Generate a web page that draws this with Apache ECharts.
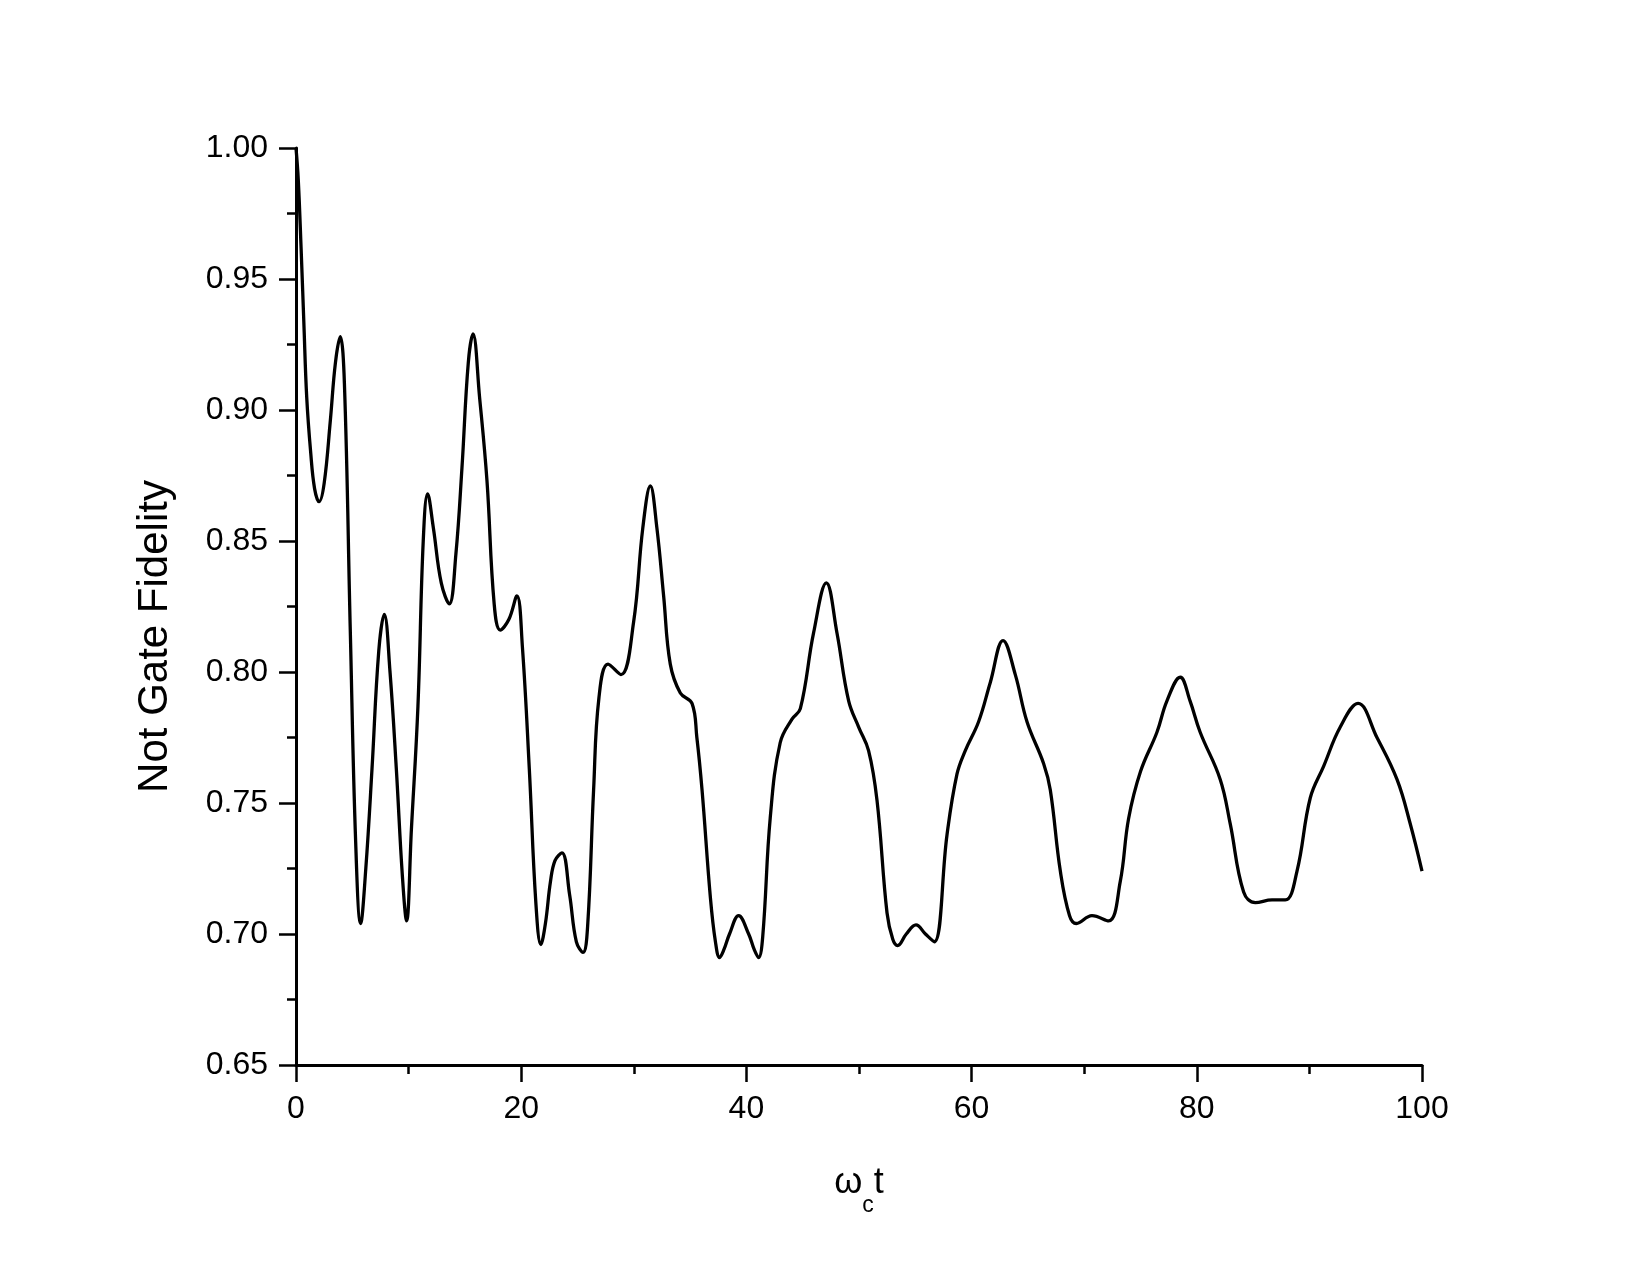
<!DOCTYPE html>
<html>
<head>
<meta charset="utf-8">
<script src="https://cdn.jsdelivr.net/npm/echarts@6/dist/echarts.min.js"></script>
<style>
html,body{margin:0;padding:0;background:#fff;}
#chart{width:1650px;height:1275px;}
</style>
</head>
<body>
<div id="chart"></div>
<script>
// omega_c t values
var tValues = [
  0, 0.2, 0.45, 0.7, 0.95, 1.3, 1.65, 2.05, 2.5, 3.05, 3.5, 3.93, 4.3, 4.82, 5.3, 5.74,
  6.2, 6.75, 7.35, 7.84, 8.35, 8.91, 9.45, 9.82, 10.25, 10.83, 11.3, 11.69, 12.2, 12.9,
  13.61, 14.2, 14.74, 15.3, 15.72, 16.3, 16.96, 17.6, 18.14, 18.9, 19.62, 20.1, 20.72,
  21.3, 21.75, 22.15, 22.6, 23.0, 23.62, 24.3, 24.9, 25.49, 25.9, 26.43, 26.9, 27.71, 28.86,
  29.98, 30.8, 31.47, 32.05, 32.65, 33.24, 34.13, 35.17, 35.6, 36.06, 36.8, 37.25, 37.62, 38.0, 38.5,
  39.31, 40.2, 40.7, 41.08, 41.45, 42.12, 43.0, 44.05, 44.79, 45.97, 47.1, 48.04, 49.08, 49.97,
  50.85, 51.6, 52.49, 53.0, 53.43, 54.2, 55.06, 55.9, 56.69, 57.82, 58.7, 59.44, 60.62, 61.66,
  62.79, 63.88, 64.92, 66.4, 66.99, 67.88, 68.7, 69.3, 70.69, 72.17, 73.2, 73.94, 75.0, 76.46,
  77.35, 78.53, 79.4, 80.3, 82.08, 82.97, 84.16, 85.2, 86.68, 87.86, 88.9, 90.08, 91.26,
  92.74, 94.32, 96.0, 97.78, 98.96, 100
];
// Not Gate Fidelity values
var fidelity = [
  1.000, 0.988, 0.962, 0.933, 0.905, 0.884, 0.870, 0.865, 0.872, 0.896, 0.918, 0.928, 0.910, 0.816, 0.735, 0.704,
  0.725, 0.763, 0.808, 0.822, 0.800, 0.763, 0.722, 0.705, 0.740, 0.787, 0.850, 0.868, 0.855, 0.834,
  0.826, 0.845, 0.878, 0.918, 0.929, 0.905, 0.873, 0.826, 0.816, 0.820, 0.829, 0.810, 0.763,
  0.712, 0.696, 0.704, 0.720, 0.728, 0.731, 0.715, 0.697, 0.693, 0.703, 0.755, 0.790, 0.803, 0.799,
  0.819, 0.855, 0.871, 0.855, 0.829, 0.803, 0.792, 0.788, 0.775, 0.755, 0.714, 0.697, 0.691, 0.694, 0.700,
  0.707, 0.700, 0.694, 0.691, 0.699, 0.7445, 0.773, 0.782, 0.786, 0.815, 0.834, 0.815, 0.789, 0.779,
  0.770, 0.751, 0.708, 0.698, 0.6956, 0.700, 0.7035, 0.700, 0.697, 0.738, 0.761, 0.770, 0.781, 0.796,
  0.812, 0.799, 0.781, 0.765, 0.755, 0.724, 0.707, 0.704, 0.707, 0.705, 0.720, 0.744, 0.762, 0.777,
  0.789, 0.798, 0.789, 0.777, 0.759, 0.742, 0.716, 0.712, 0.713, 0.713, 0.724, 0.752, 0.764,
  0.779, 0.788, 0.775, 0.759, 0.742, 0.724
];
var xTicks = [0, 20, 40, 60, 80, 100];
var yTicks = [0.65, 0.70, 0.75, 0.80, 0.85, 0.90, 0.95, 1.00];

var seriesData = tValues.map(function (t, i) { return [t, fidelity[i]]; });

var FONT = '"Liberation Sans", Arial, sans-serif';
var chart = echarts.init(document.getElementById('chart'), null, {renderer: 'canvas'});
chart.setOption({
  backgroundColor: '#ffffff',
  animation: false,
  grid: {left: 296, right: 228, top: 148, bottom: 210, containLabel: false},
  xAxis: {
    type: 'value',
    min: xTicks[0], max: xTicks[xTicks.length - 1], interval: 20,
    name: '{w|ω}{sub|c}{w|t}',
    nameLocation: 'middle',
    nameGap: 100,
    nameTextStyle: {
      rich: {
        w: {fontFamily: FONT, fontSize: 36, color: '#000', lineHeight: 36, verticalAlign: 'top'},
        sub: {fontFamily: FONT, fontSize: 23, color: '#000', lineHeight: 23, padding: [29, 0, 0, 0], verticalAlign: 'top'}
      }
    },
    axisLine: {show: true, onZero: false, lineStyle: {color: '#000', width: 3}},
    axisTick: {show: true, inside: false, length: 17, lineStyle: {color: '#000', width: 2.5}},
    minorTick: {show: true, splitNumber: 2, length: 9, lineStyle: {color: '#000', width: 2.5}},
    splitLine: {show: false},
    axisLabel: {color: '#000', fontFamily: FONT, fontSize: 32, margin: 28}
  },
  yAxis: {
    type: 'value',
    min: yTicks[0], max: yTicks[yTicks.length - 1], interval: 0.05,
    name: 'Not Gate Fidelity',
    nameLocation: 'middle',
    nameGap: 120,
    nameTextStyle: {color: '#000', fontFamily: FONT, fontSize: 42, padding: [0, 60, 0, 0]},
    axisLine: {show: true, onZero: false, lineStyle: {color: '#000', width: 3}},
    axisTick: {show: true, inside: false, length: 17, lineStyle: {color: '#000', width: 2.5}},
    minorTick: {show: true, splitNumber: 2, length: 9, lineStyle: {color: '#000', width: 2.5}},
    splitLine: {show: false},
    axisLabel: {
      color: '#000', fontFamily: FONT, fontSize: 32, margin: 28,
      formatter: function (v) { return v.toFixed(2); }
    }
  },
  series: [{
    type: 'line',
    data: seriesData,
    smooth: 0.4,
    showSymbol: false,
    lineStyle: {color: '#000', width: 3.3},
    itemStyle: {color: '#000'}
  }]
});
</script>
</body>
</html>
